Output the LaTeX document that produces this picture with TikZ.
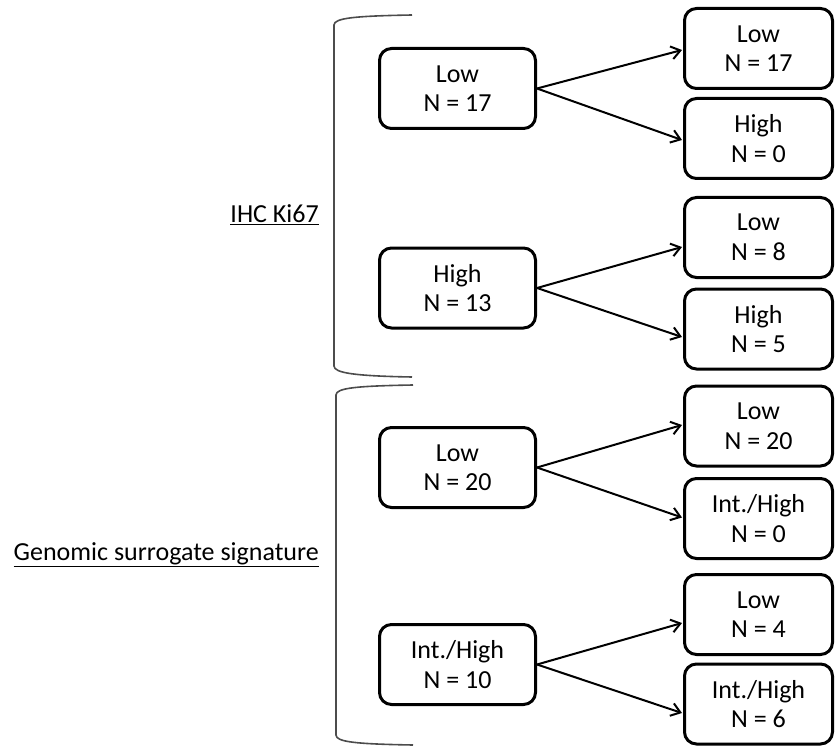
\documentclass[tikz,border=0pt]{standalone}
\usepackage{fontspec}
\setmainfont{Carlito}
\usetikzlibrary{arrows.meta}
\begin{document}
\begin{tikzpicture}[x=1pt,y=-1pt,
  box/.style={draw=black,line width=3pt,rounded corners=12pt,align=center,
    font=\fontsize{26}{29.5}\selectfont,inner sep=0pt,minimum height=80pt},
  lbox/.style={box,minimum width=156pt},
  rbox/.style={box,minimum width=148pt},
  arr/.style={line width=2pt,-{Straight Barb[length=9pt,width=13pt,line width=2pt]}},
  brace/.style={draw=black!70,line width=1.6pt},
  lab/.style={anchor=east,font=\fontsize{26}{29.5}\selectfont,inner sep=0pt}]
\useasboundingbox (0,0) rectangle (835,746);
% left nodes
\node[lbox] (l1) at (457.5,88.5) {Low\\N = 17};
\node[lbox] (l2) at (457.5,288) {High\\N = 13};
\node[lbox] (l3) at (457.5,467.5) {Low\\N = 20};
\node[lbox] (l4) at (457.5,664.5) {Int./High\\N = 10};
% right nodes
\node[rbox] (r1) at (758.5,48.5) {Low\\N = 17};
\node[rbox] (r2) at (758.5,138.5) {High\\N = 0};
\node[rbox] (r3) at (758.5,237.5) {Low\\N = 8};
\node[rbox] (r4) at (758.5,329) {High\\N = 5};
\node[rbox] (r5) at (758.5,426) {Low\\N = 20};
\node[rbox] (r6) at (758.5,518.5) {Int./High\\N = 0};
\node[rbox] (r7) at (758.5,614.5) {Low\\N = 4};
\node[rbox] (r8) at (758.5,704) {Int./High\\N = 6};
% arrows
\draw[arr] (l1.east) -- ([yshift=-1.5pt,xshift=-1pt]r1.west);
\draw[arr] (l1.east) -- ([yshift=-1.5pt,xshift=-1pt]r2.west);
\draw[arr] (l2.east) -- ([yshift=-9.5pt,xshift=-1pt]r3.west);
\draw[arr] (l2.east) -- ([yshift=-8pt,xshift=-1pt]r4.west);
\draw[arr] (l3.east) -- ([yshift=1pt,xshift=-1pt]r5.west);
\draw[arr] (l3.east) -- ([yshift=1pt,xshift=-1pt]r6.west);
\draw[arr] (l4.east) -- ([yshift=-8.5pt,xshift=-1pt]r7.west);
\draw[arr] (l4.east) -- ([yshift=-9pt,xshift=-1pt]r8.west);
% braces
\draw[brace] (412,15) .. controls (355,16) and (334,18) .. (334,25) -- (334,366) .. controls (334,373) and (355,376) .. (412,377);
\draw[brace] (413,385) .. controls (356,386) and (336,388) .. (336,395) -- (336,735) .. controls (336,742) and (356,744) .. (413,745);
% labels
\node[lab] (ihc) at (319,215) {\underline{IHC Ki67}};
\node[lab] (gen) at (319,555) {\underline{Genomic surrogate signature}};
\end{tikzpicture}
\end{document}
